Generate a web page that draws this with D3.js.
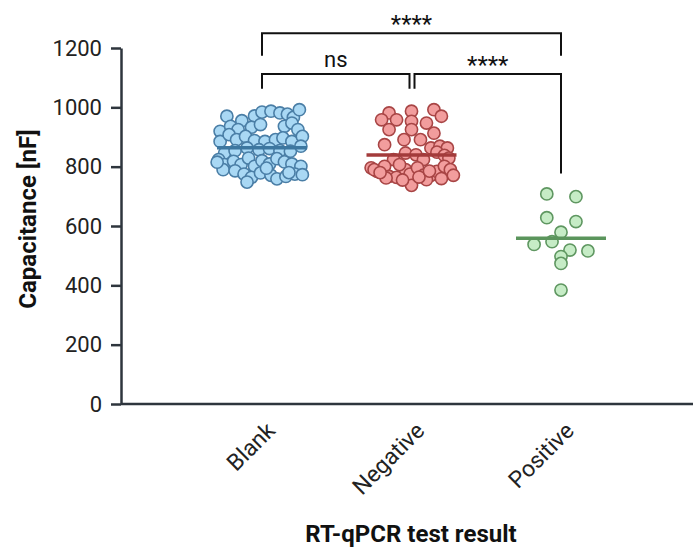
<!DOCTYPE html>
<html>
<head>
<meta charset="utf-8">
<script src="https://cdn.jsdelivr.net/npm/d3@7"></script>
<style>
  body { margin: 0; background: #fff; }
  svg { display: block; font-family: Roboto, "Noto Sans", sans-serif; }
</style>
</head>
<body>
<svg width="693" height="551"></svg>
<script>
// groups on the x axis
const categories = ["Blank", "Negative", "Positive"];

// capacitance readings (nF) and horizontal scatter (fraction of a category step)
const blankValues = [970, 955, 971, 984, 987, 981, 977, 966, 992,
    919, 936, 925, 933, 942, 936, 947, 925,
    885, 908, 891, 902, 888, 885, 891, 897, 885, 902,
    846, 854, 863, 857, 861, 854, 852, 869,
    824, 807, 818, 807, 829, 801, 820, 809, 827, 816, 809, 801,
    790, 786, 775, 764, 779, 771, 759, 767, 775, 773,
    748, 815, 795, 780];
const blankJitter = [-0.235, -0.135, -0.05, 0, 0.06, 0.12, 0.17, 0.21, 0.25,
    -0.28, -0.21, -0.16, -0.07, -0.01, 0.15, 0.2, 0.24,
    -0.28, -0.22, -0.17, -0.11, -0.05, 0.02, 0.09, 0.14, 0.2, 0.27,
    -0.25, -0.18, -0.1, -0.02, 0.05, 0.12, 0.19, 0.26,
    -0.29, -0.25, -0.19, -0.14, -0.09, -0.05, 0, 0.05, 0.1, 0.15, 0.2, 0.26,
    -0.26, -0.18, -0.12, -0.07, -0.01, 0.06, 0.1, 0.16, 0.22, 0.27,
    -0.1, -0.3, 0.03, 0.18];

const negativeValues = [981, 958, 958, 987, 953, 992, 970,
    925, 925, 947, 913,
    874, 891, 891, 863, 869, 863,
    824, 846, 840, 824, 849, 838, 829,
    796, 784, 801, 767, 764, 790, 775, 796, 771, 771, 784, 801, 790, 771, 790, 807,
    737, 756, 762,
    780, 765, 760, 755, 785];
const negativeJitter = [-0.15, -0.2, -0.1, 0, 0, 0.15, 0.2,
    -0.15, 0, 0.1, 0.15,
    -0.18, -0.05, 0.06, 0.13, 0.19, 0.24,
    -0.12, -0.04, 0.03, 0.08, 0.17, 0.22, 0.25,
    -0.27, -0.23, -0.18, -0.15, -0.1, -0.04, -0.01, 0.04, 0.08, 0.13, 0.17, 0.22, 0.26, 0.28, -0.25, -0.08,
    0, 0.1, -0.17,
    -0.21, 0.05, 0.2, -0.06, 0.12];

const positiveValues = [708, 699, 628, 615, 579, 538, 547, 519, 516, 497, 474, 384];
const positiveJitter = [-0.095, 0.1, -0.095, 0.1, 0, -0.18, -0.06, 0.06, 0.18, 0, 0, 0];

const yTicks = [0, 200, 400, 600, 800, 1000, 1200];

// significance brackets
const comparisons = [
    {from: "Blank", to: "Positive", label: "****"},
    {from: "Blank", to: "Negative", label: "ns"},
    {from: "Negative", to: "Positive", label: "****"}
];

const groups = [
    {name: "Blank", values: blankValues, jitter: blankJitter, fill: "#a9d8f4", stroke: "#4a7ea6", mean: "#3d77a0"},
    {name: "Negative", values: negativeValues, jitter: negativeJitter, fill: "#f29d9d", stroke: "#a84545", mean: "#a33b3b"},
    {name: "Positive", values: positiveValues, jitter: positiveJitter, fill: "#c6ecc6", stroke: "#5f9761", mean: "#5b955c"}
];

const svg = d3.select("svg");
const axisColor = "#2e353d";
const axisLeftX = 121, axisY = 404;

const x = d3.scalePoint().domain(categories).range([262, 561]);
const y = d3.scaleLinear().domain([0, 1200]).range([404, 48]);

// y axis
const yAxis = svg.append("g")
    .attr("transform", `translate(${axisLeftX},0)`)
    .call(d3.axisLeft(y).tickValues(yTicks).tickFormat(d3.format("d"))
        .tickSize(10).tickSizeOuter(0).tickPadding(9));
yAxis.select(".domain").attr("stroke", axisColor).attr("stroke-width", 2.5);
yAxis.selectAll(".tick line").attr("stroke", axisColor).attr("stroke-width", 2.5);
yAxis.selectAll(".tick text").attr("font-size", 22).attr("fill", "#222")
    .attr("font-family", "Roboto, sans-serif");

// x axis line
svg.append("line")
    .attr("x1", axisLeftX).attr("x2", 693)
    .attr("y1", axisY).attr("y2", axisY)
    .attr("stroke", axisColor).attr("stroke-width", 2.5);

// category labels
const xAxis = svg.append("g")
    .attr("transform", `translate(0,${axisY})`)
    .call(d3.axisBottom(x).tickSize(0));
xAxis.select(".domain").remove();
xAxis.selectAll(".tick text")
    .attr("font-size", 23).attr("fill", "#222")
    .attr("font-family", "Roboto, sans-serif")
    .attr("text-anchor", "end")
    .attr("dy", null)
    .attr("y", 0)
    .attr("transform", "translate(14,28) rotate(-45)");

// axis titles
svg.append("text")
    .attr("x", 411).attr("y", 542)
    .attr("text-anchor", "middle")
    .attr("font-size", 24).attr("font-weight", "bold").attr("fill", "#111")
    .text("RT-qPCR test result");

svg.append("text")
    .attr("transform", "translate(36,219) rotate(-90)")
    .attr("text-anchor", "middle")
    .attr("font-size", 24).attr("font-weight", "bold").attr("fill", "#111")
    .text("Capacitance [nF]");

// points
const step = x.step();
groups.forEach(g => {
    svg.append("g").selectAll("circle")
        .data(g.values)
        .join("circle")
        .attr("cx", (d, i) => x(g.name) + g.jitter[i] * step)
        .attr("cy", d => y(d))
        .attr("r", 6.1)
        .attr("fill", g.fill)
        .attr("stroke", g.stroke)
        .attr("stroke-width", 1.6);

    const m = d3.mean(g.values);
    svg.append("line")
        .attr("x1", x(g.name) - 45).attr("x2", x(g.name) + 45)
        .attr("y1", y(m)).attr("y2", y(m))
        .attr("stroke", g.mean).attr("stroke-width", 3.5);
});

// brackets: [bar level, left leg end, right leg end, label baseline] in data units
const bracketLevels = [
    [1250, 1174, 1174, 1262],
    [1112, 1063, 1063, 1134],
    [1112, 1063, 777, 1134]
];
comparisons.forEach((c, i) => {
    const [lvl, l1, l2, lab] = bracketLevels[i];
    let x1 = x(c.from), x2 = x(c.to);
    if (i === 1) x2 -= 2;
    if (i === 2) x1 += 3;
    const star = c.label !== "ns";
    svg.append("path")
        .attr("d", `M${x1},${y(l1)}V${y(lvl)}H${x2}V${y(l2)}`)
        .attr("fill", "none").attr("stroke", "#111").attr("stroke-width", 2);
    svg.append("text")
        .attr("x", (x1 + x2) / 2)
        .attr("y", star ? y(lab) + (i === 0 ? 2 : 5) : y(lab) - 1)
        .attr("text-anchor", "middle")
        .attr("font-size", star ? 24 : 22).attr("fill", "#111")
        .text(c.label);
});
</script>
</body>
</html>
